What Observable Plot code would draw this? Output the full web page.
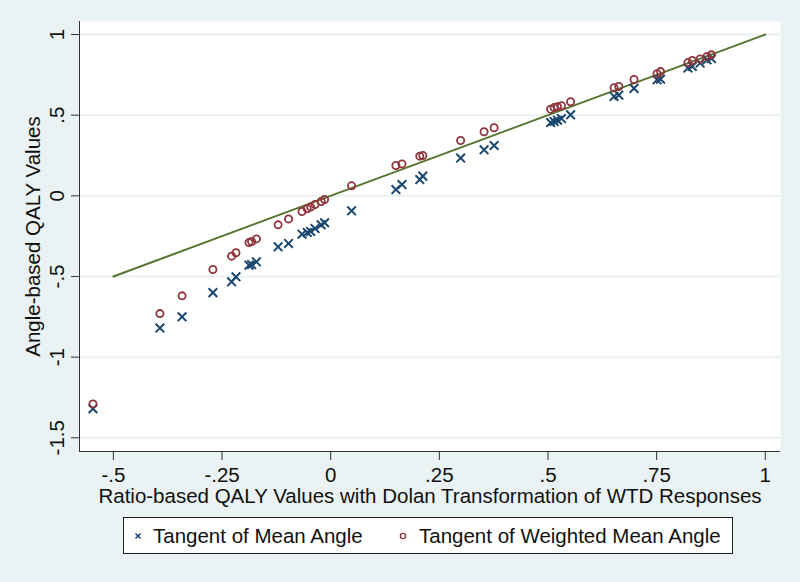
<!DOCTYPE html>
<html>
<head>
<meta charset="utf-8">
<script src="https://cdn.jsdelivr.net/npm/d3@7"></script>
<script src="https://cdn.jsdelivr.net/npm/@observablehq/plot@0.6"></script>
<style>
  html, body { margin: 0; padding: 0; background: #eaf2f3; }
  #wrap { position: relative; width: 800px; height: 582px; background: #eaf2f3; font-family: "Liberation Sans", Arial, sans-serif; }
  #legend { position: absolute; left: 123px; top: 517px; width: 608px; height: 35px; background: #fff; border: 1px solid #222; }
  .item { position: absolute; top: 0; height: 35px; line-height: 35px; font-size: 20.5px; color: #111; white-space: nowrap; }
  .item svg { position: absolute; top: 14px; }
</style>
</head>
<body>
<div id="wrap"></div>
<script>
// Ratio-based QALY values (x)
const ratioQALY = [-0.547, -0.393, -0.342, -0.271, -0.228, -0.218, -0.188, -0.182, -0.171, -0.121, -0.097,
  -0.066, -0.054, -0.046, -0.036, -0.022, -0.014, 0.048, 0.150, 0.164, 0.205, 0.212, 0.299, 0.353, 0.376,
  0.506, 0.514, 0.522, 0.531, 0.552, 0.652, 0.663, 0.698, 0.751, 0.759, 0.822, 0.832, 0.850, 0.866, 0.876];
// Tangent of Mean Angle
const meanAngle = [-1.32, -0.82, -0.75, -0.60, -0.533, -0.502, -0.43, -0.426, -0.409, -0.316, -0.295,
  -0.238, -0.227, -0.221, -0.203, -0.180, -0.167, -0.093, 0.039, 0.070, 0.101, 0.122, 0.234, 0.285, 0.312,
  0.454, 0.461, 0.469, 0.479, 0.502, 0.616, 0.624, 0.666, 0.719, 0.723, 0.792, 0.802, 0.823, 0.843, 0.851];
// Tangent of Weighted Mean Angle
const weightedAngle = [-1.29, -0.73, -0.62, -0.457, -0.374, -0.353, -0.29, -0.283, -0.267, -0.180, -0.143,
  -0.097, -0.080, -0.070, -0.054, -0.035, -0.023, 0.062, 0.188, 0.198, 0.246, 0.250, 0.343, 0.397, 0.422,
  0.537, 0.547, 0.552, 0.558, 0.583, 0.670, 0.678, 0.721, 0.757, 0.770, 0.826, 0.839, 0.848, 0.864, 0.874];
// 45-degree reference line
const refLineX = [-0.5, 1];
const refLineY = [-0.5, 1];

const xTicks = [-0.5, -0.25, 0, 0.25, 0.5, 0.75, 1];
const xTickLabels = ["-.5", "-.25", "0", ".25", ".5", ".75", "1"];
const yTicks = [1, 0.5, 0, -0.5, -1, -1.5];
const yTickLabels = ["1", ".5", "0", "-.5", "-1", "-1.5"];

const xTitle = "Ratio-based QALY Values with Dolan Transformation of WTD Responses";
const yTitle = "Angle-based QALY Values";
const seriesNames = ["Tangent of Mean Angle", "Tangent of Weighted Mean Angle"];

const navy = "#1a476f", maroon = "#90353b", green = "#55752f", bg = "#eaf2f3";
const fs = 20.5;

const rows = ratioQALY.map((x, i) => ({x, mean: meanAngle[i], weighted: weightedAngle[i]}));
const lineRows = refLineX.map((x, i) => ({x, y: refLineY[i]}));
const xDomain = [-0.578, 1.035];
const yDomain = [-1.585, 1.0806];

const chart = Plot.plot({
  width: 800,
  height: 582,
  marginLeft: 79,
  marginRight: 20,
  marginTop: 21,
  marginBottom: 131,
  style: {background: bg, fontFamily: "'Liberation Sans', Arial, sans-serif", color: "#111"},
  x: {domain: xDomain},
  y: {domain: yDomain},
  marks: [
    Plot.frame({fill: "white", stroke: null}),
    Plot.gridY(yTicks, {stroke: bg, strokeOpacity: 1, strokeWidth: 2}),
    Plot.ruleX([xDomain[0]], {stroke: "#333", strokeWidth: 1}),
    Plot.ruleY([yDomain[0]], {stroke: "#333", strokeWidth: 1}),
    Plot.axisX(xTicks, {tickSize: 9, stroke: "#333", tickFormat: () => "", label: null}),
    Plot.axisY(yTicks, {tickSize: 8, stroke: "#333", tickFormat: () => "", label: null}),
    Plot.text(xTicks, {x: (d) => d, text: (d, i) => xTickLabels[i], frameAnchor: "bottom", lineAnchor: "middle", textAnchor: "middle", dy: 24, fontSize: fs, fill: "#111"}),
    Plot.text(yTicks, {y: (d) => d, text: (d, i) => yTickLabels[i], frameAnchor: "left", lineAnchor: "middle", textAnchor: "middle", dx: -22, rotate: -90, fontSize: fs, fill: "#111"}),
    Plot.text([xTitle], {text: (d) => d, frameAnchor: "bottom", lineAnchor: "middle", textAnchor: "middle", dy: 45, fontSize: fs, fill: "#111"}),
    Plot.text([yTitle], {text: (d) => d, frameAnchor: "left", lineAnchor: "middle", textAnchor: "middle", dx: -46, rotate: -90, fontSize: fs, fill: "#111"}),
    Plot.line(lineRows, {x: "x", y: "y", stroke: green, strokeWidth: 2}),
    Plot.dot(rows, {x: "x", y: "mean", symbol: "times", r: 4, stroke: navy, strokeWidth: 2}),
    Plot.dot(rows, {x: "x", y: "weighted", symbol: "circle", r: 3.6, stroke: maroon, strokeWidth: 1.8, fill: "none"})
  ]
});

const wrap = document.getElementById("wrap");
wrap.appendChild(chart);

const legend = document.createElement("div");
legend.id = "legend";
legend.innerHTML = `
  <div class="item" style="left:10px;"><svg width="8" height="8" viewBox="-4 -4 8 8"><path d="M-2.5,-2.5L2.5,2.5M-2.5,2.5L2.5,-2.5" stroke="${navy}" stroke-width="1.6"/></svg><span style="margin-left:19px">${seriesNames[0]}</span></div>
  <div class="item" style="left:275px;"><svg width="8" height="8" viewBox="-4 -4 8 8"><circle r="2.6" fill="none" stroke="${maroon}" stroke-width="1.4"/></svg><span style="margin-left:20px">${seriesNames[1]}</span></div>`;
wrap.appendChild(legend);
</script>
</body>
</html>
